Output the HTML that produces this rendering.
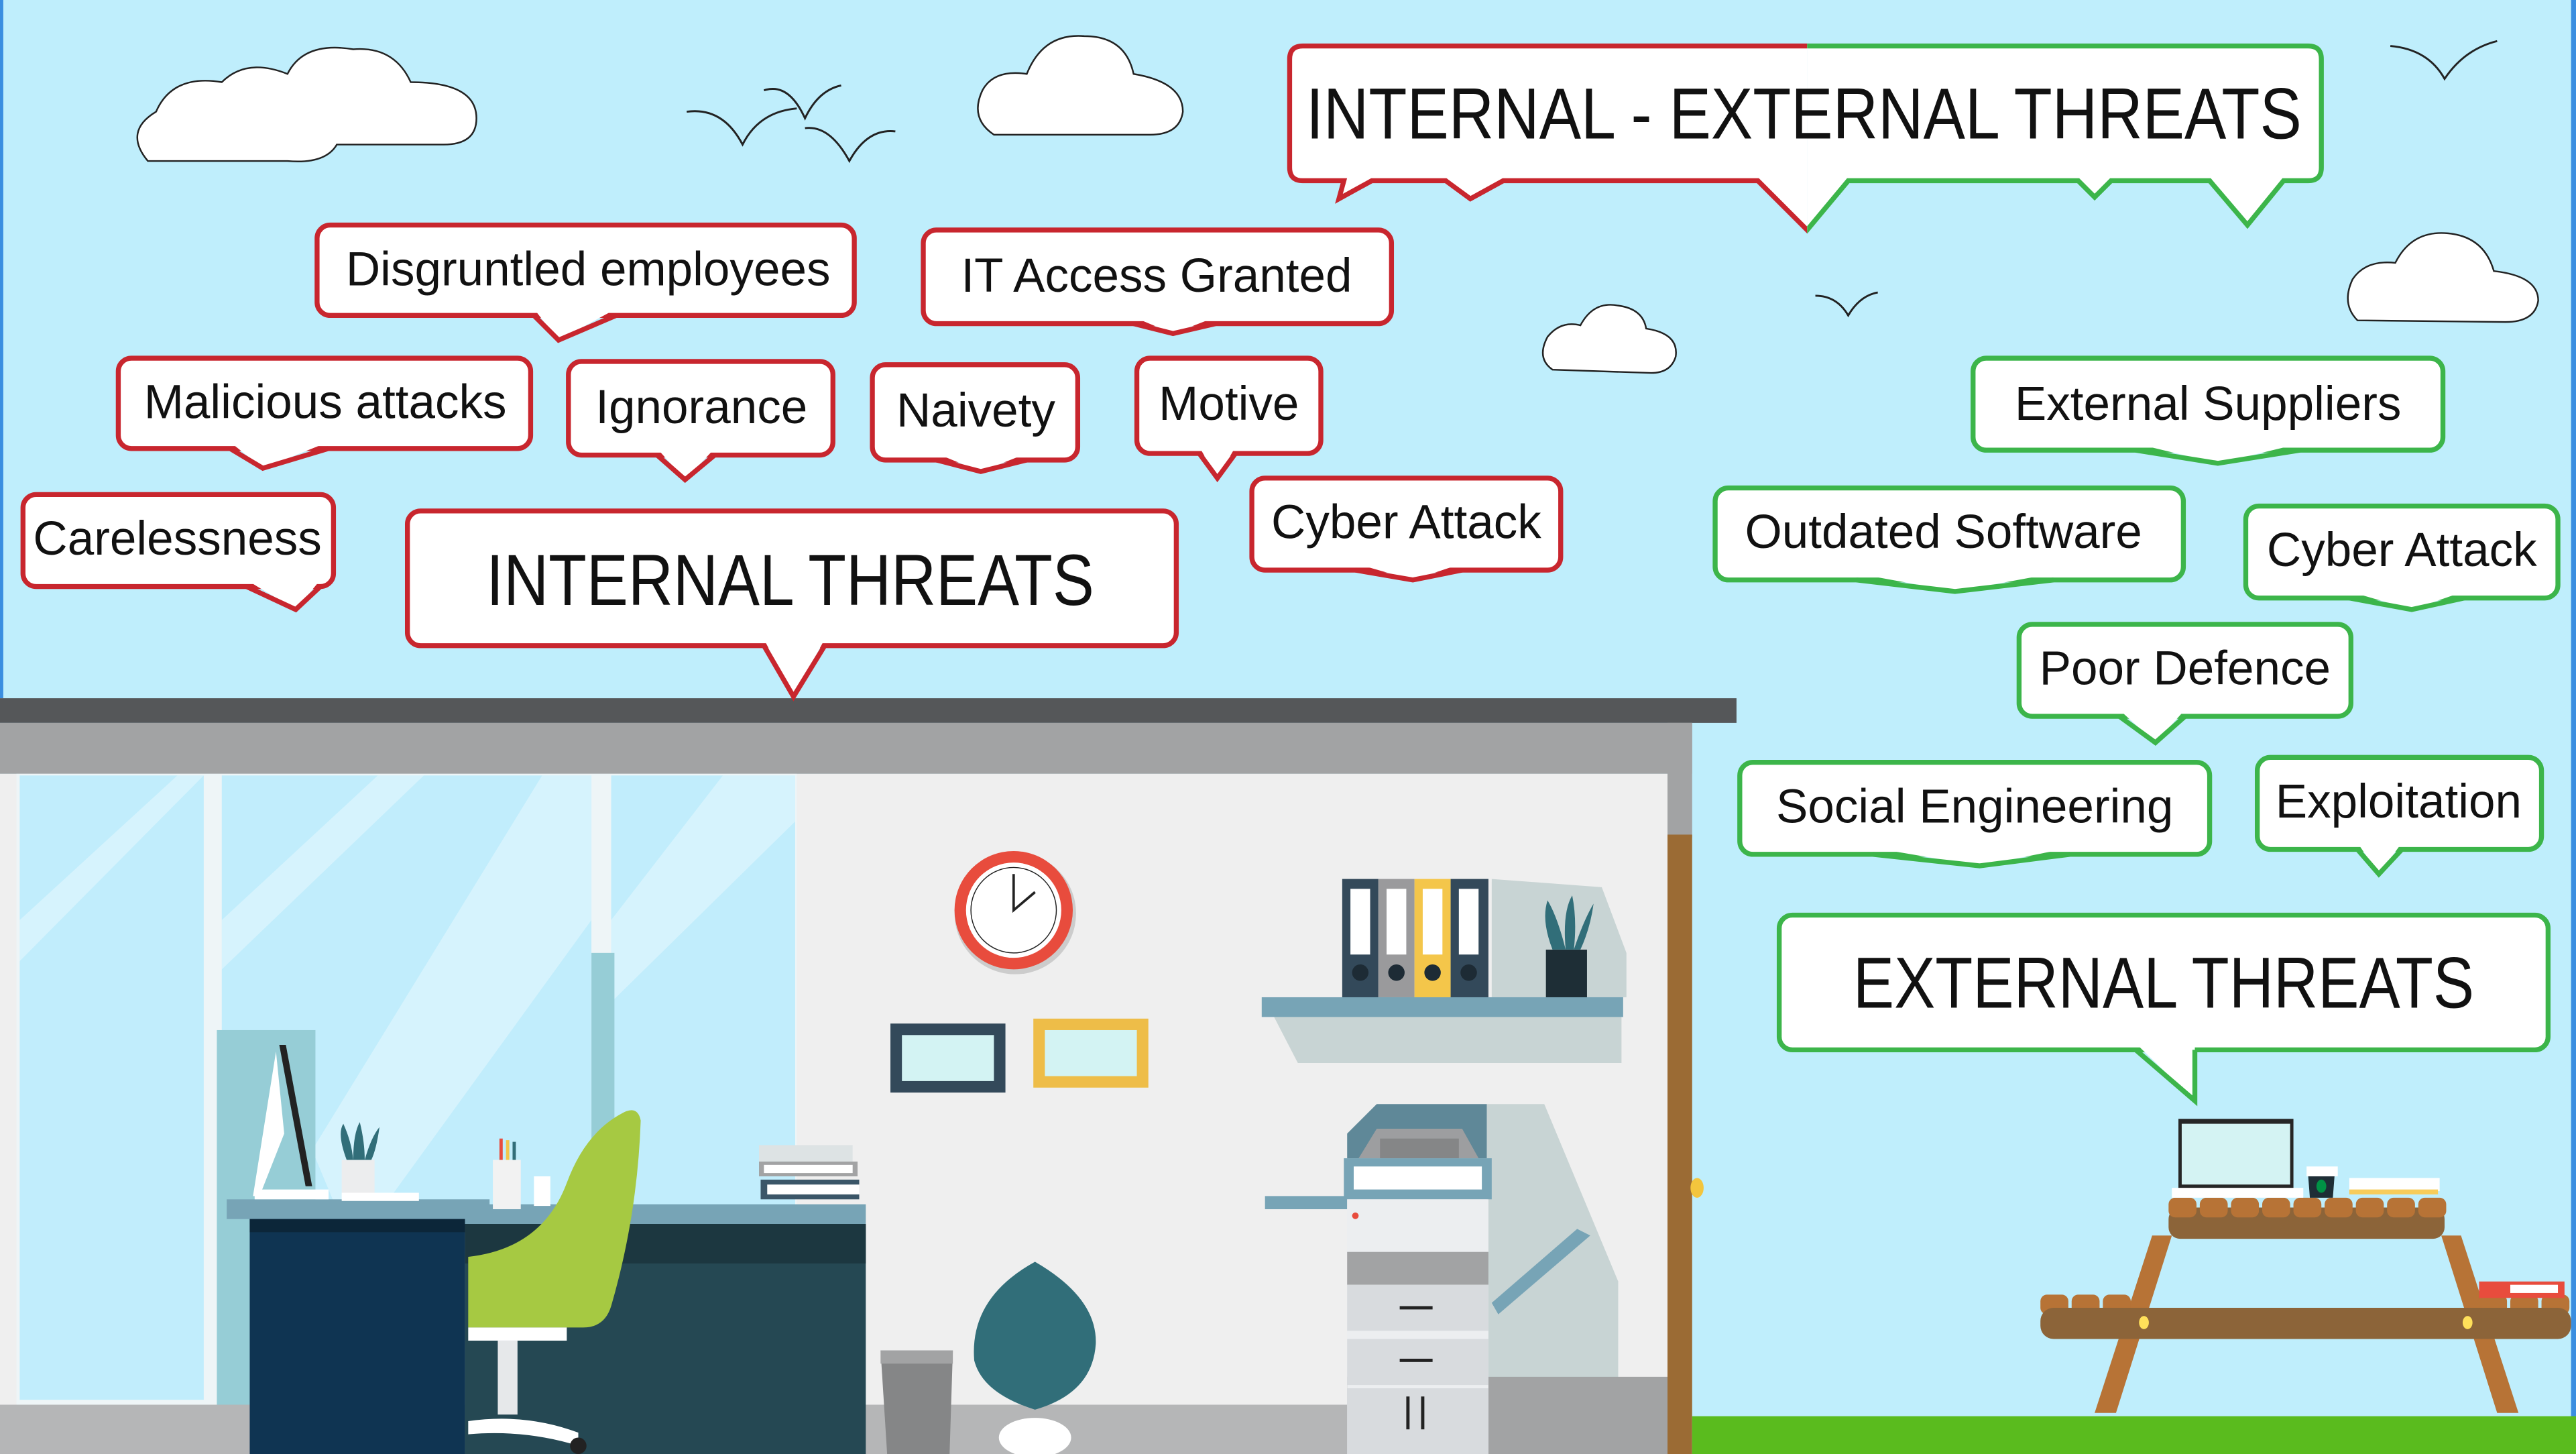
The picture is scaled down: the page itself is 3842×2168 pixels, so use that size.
<!DOCTYPE html>
<html><head><meta charset="utf-8"><style>
html,body{margin:0;padding:0;width:3842px;height:2168px;overflow:hidden;background:#bfeefc}
svg{display:block}
text{font-family:"Liberation Sans",sans-serif;fill:#111;text-anchor:middle;dominant-baseline:central}
</style></head><body>
<svg width="3842" height="2168" viewBox="0 0 1568 885" preserveAspectRatio="none">
<defs>
<clipPath id="cl"><rect x="0" y="0" width="1100" height="200"/></clipPath>
<clipPath id="cr"><rect x="1100" y="0" width="500" height="200"/></clipPath>
</defs>
<rect width="1568" height="885" fill="#bfeefc"/>
<rect x="0" y="0" width="2" height="425" fill="#3a8ee0"/>
<rect x="1565" y="0" width="3" height="885" fill="#3a8ee0"/>
<g fill="#fff" stroke="#222" stroke-width="1">
<path d="M90,98 Q75,80 95,68 Q105,45 135,50 Q150,35 175,45 Q185,25 215,30 Q240,28 250,50 Q290,50 290,72 Q290,88 270,88 L205,88 Q198,100 175,98 Z"/>
<path d="M605,82 Q590,72 598,55 Q605,42 625,45 Q635,20 660,22 Q685,22 690,45 Q720,50 720,68 Q718,82 700,82 Z"/>
<path d="M945,225 Q935,218 942,205 Q950,195 962,198 Q970,183 985,186 Q1000,188 1002,200 Q1022,203 1020,217 Q1017,227 1005,227 Z"/>
<path d="M1435,195 Q1425,185 1432,170 Q1440,158 1458,160 Q1468,140 1490,142 Q1512,144 1518,165 Q1545,168 1545,183 Q1543,196 1525,196 Z"/>
</g>
<g fill="none" stroke="#222" stroke-width="1.2">
<path d="M418,68 Q440,65 452,88 Q462,68 485,66"/>
<path d="M465,55 Q480,50 490,72 Q498,55 512,52"/>
<path d="M490,78 Q505,76 517,98 Q528,78 545,80"/>
<path d="M1455,28 Q1478,30 1488,48 Q1500,30 1520,25"/>
<path d="M1105,180 Q1118,180 1125,192 Q1132,180 1143,178"/>
</g>
<rect x="0" y="425" width="1057" height="15" fill="#555759"/>
<rect x="0" y="440" width="1030" height="31" fill="#a2a3a4"/>
<rect x="0" y="471" width="1015" height="414" fill="#efefef"/>
<rect x="1015" y="440" width="15" height="70" fill="#a2a3a4"/>
<rect x="1015" y="508" width="15" height="377" fill="#9b6b34"/>
<ellipse cx="1033" cy="723" rx="4" ry="6" fill="#f3c53d"/>
<rect x="1030" y="862" width="538" height="23" fill="#5abb1e"/>
<rect x="10" y="471" width="475" height="390" fill="#eef5f7"/>
<rect x="12" y="472" width="112" height="380" fill="#c1edfc"/>
<rect x="135" y="472" width="225" height="380" fill="#c1edfc"/>
<rect x="372" y="472" width="112" height="380" fill="#c1edfc"/>
<g fill="#fff" opacity="0.35">
<polygon points="12,560 108,472 124,472 12,585"/>
<polygon points="135,560 230,472 258,472 135,590"/>
<polygon points="190,700 330,472 360,472 360,560 215,760"/>
<polygon points="372,560 440,472 484,472 484,500 372,610"/>
</g>
<rect x="132" y="627" width="60" height="230" fill="#96cdd6"/>
<rect x="360" y="580" width="14" height="240" fill="#96cdd6"/>
<rect x="0" y="855" width="1015" height="30" fill="#b5b6b7"/>
<polygon points="905,672 940,672 985,780 985,855 905,855" fill="#c8d4d4"/>
<rect x="820" y="838" width="195" height="47" fill="#a2a3a4"/>
<circle cx="618" cy="556" r="37" fill="#ccc"/>
<circle cx="617" cy="554" r="36" fill="#e84c3d"/>
<circle cx="617" cy="554" r="29" fill="#fff"/>
<circle cx="617" cy="554" r="26" fill="none" stroke="#222" stroke-width="0.6"/>
<path d="M617,532 L617,554 L630,543" stroke="#222" stroke-width="1.5" fill="none"/>
<rect x="542" y="623" width="70" height="42" fill="#33495a"/><rect x="549" y="630" width="56" height="28" fill="#d3f3f3"/>
<rect x="629" y="620" width="70" height="42" fill="#eebd48"/><rect x="636" y="627" width="56" height="28" fill="#d3f3f3"/>
<polygon points="775,618 987,618 987,647 790,647" fill="#c8d4d4"/>
<polygon points="908,535 975,540 990,580 990,607 908,607" fill="#c8d4d4"/>
<rect x="768" y="607" width="220" height="12" fill="#77a4b6"/>
<rect x="817" y="535" width="22" height="72" fill="#33495a"/>
<rect x="839" y="535" width="22" height="72" fill="#9a9a9c"/>
<rect x="861" y="535" width="22" height="72" fill="#f4c64a"/>
<rect x="883" y="535" width="23" height="72" fill="#33495a"/>
<g fill="#fff"><rect x="822" y="541" width="12" height="40"/><rect x="844" y="541" width="12" height="40"/><rect x="866" y="541" width="12" height="40"/><rect x="888" y="541" width="12" height="40"/></g>
<g fill="#1d2b35"><circle cx="828" cy="592" r="5"/><circle cx="850" cy="592" r="5"/><circle cx="872" cy="592" r="5"/><circle cx="894" cy="592" r="5"/></g>
<rect x="941" y="578" width="25" height="29" fill="#1e2e36"/>
<path d="M945,578 Q938,560 942,548 Q948,558 953,578 Q951,555 957,545 Q960,560 958,578 Q964,560 970,550 Q968,565 962,578 Z" fill="#316e79"/>
<polygon points="820,690 838,672 905,672 905,705 820,705" fill="#5f8898"/>
<polygon points="827,705 838,687 890,687 900,705" fill="#9d9ea0"/>
<rect x="840" y="693" width="48" height="12" fill="#858687"/>
<rect x="818" y="705" width="90" height="25" fill="#77a4b6"/><rect x="824" y="710" width="78" height="14" fill="#fff"/>
<rect x="770" y="728" width="50" height="8" fill="#77a4b6"/>
<rect x="820" y="730" width="86" height="155" fill="#eceef0"/>
<rect x="820" y="762" width="86" height="20" fill="#a2a3a4"/>
<rect x="820" y="782" width="86" height="28" fill="#d8dbde"/>
<rect x="820" y="815" width="86" height="28" fill="#d8dbde"/>
<rect x="820" y="845" width="86" height="40" fill="#d8dbde"/>
<circle cx="825" cy="740" r="2" fill="#e84c3d"/>
<rect x="852" y="795" width="20" height="2" fill="#222"/><rect x="852" y="827" width="20" height="2" fill="#222"/>
<rect x="856" y="850" width="2" height="20" fill="#222"/><rect x="865" y="850" width="2" height="20" fill="#222"/>
<polygon points="908,793 960,748 968,752 912,800" fill="#77a4b6"/>
<polygon points="536,822 580,822 578,885 540,885" fill="#858687"/>
<rect x="536" y="822" width="44" height="8" fill="#a2a3a4"/>
<path d="M630,768 Q590,790 593,828 Q598,848 630,858 Q665,848 667,818 Q668,790 630,768 Z" fill="#316e79"/>
<ellipse cx="630" cy="875" rx="22" ry="12" fill="#fff"/>
<rect x="152" y="733" width="375" height="12" fill="#77a4b6"/>
<rect x="138" y="730" width="160" height="12" fill="#77a4b6"/>
<rect x="283" y="745" width="244" height="140" fill="#254853"/>
<rect x="283" y="745" width="244" height="24" fill="#1c3740"/>
<rect x="152" y="742" width="131" height="143" fill="#0f3452"/>
<rect x="152" y="742" width="131" height="8" fill="#0c2639"/>
<polygon points="170,636 174,636 190,722 186,722" fill="#222"/>
<polygon points="168,640 173,690 158,728 154,728" fill="#fff"/>
<rect x="155" y="724" width="45" height="6" fill="#fff"/>
<rect x="208" y="706" width="20" height="22" fill="#ecedee"/>
<path d="M211,706 Q205,690 209,684 Q214,695 215,706 Q215,690 219,683 Q222,695 222,706 Q226,692 231,686 Q229,700 226,706 Z" fill="#316e79"/>
<rect x="208" y="726" width="47" height="5" fill="#fff"/>
<rect x="300" y="706" width="17" height="30" fill="#f2f2f2"/>
<rect x="304" y="693" width="2" height="13" fill="#e84c3d"/><rect x="308" y="694" width="2" height="12" fill="#f4c64a"/><rect x="312" y="695" width="2" height="11" fill="#316e79"/>
<rect x="325" y="716" width="10" height="18" fill="#fff"/>
<rect x="462" y="697" width="57" height="10" fill="#dde3e4"/>
<rect x="462" y="707" width="60" height="9" fill="#a2a3a4"/><rect x="465" y="709" width="54" height="5" fill="#fff"/>
<rect x="463" y="718" width="60" height="12" fill="#3b5668"/><rect x="467" y="721" width="56" height="6" fill="#fff"/>
<path d="M378,678 Q388,672 390,682 Q388,740 372,795 Q368,808 355,808 L285,808 L285,765 Q330,760 345,720 Q356,690 378,678 Z" fill="#a6c942"/>
<rect x="285" y="808" width="60" height="8" fill="#fff"/>
<rect x="303" y="816" width="12" height="45" fill="#e6e8ea"/>
<path d="M285,865 Q320,860 352,872 L352,880 Q320,870 285,873 Z" fill="#fff"/>
<circle cx="352" cy="880" r="5" fill="#222"/>
<g fill="#b77336">
<polygon points="1275,860 1288,860 1322,752 1310,752"/>
<polygon points="1520,860 1533,860 1498,752 1486,752"/>
</g>
<rect x="1320" y="735" width="168" height="19" rx="7" fill="#8c6439"/>
<g fill="#b77336">
<rect x="1320" y="729" width="17" height="12" rx="4"/><rect x="1339" y="729" width="17" height="12" rx="4"/><rect x="1358" y="729" width="17" height="12" rx="4"/><rect x="1377" y="729" width="17" height="12" rx="4"/><rect x="1396" y="729" width="17" height="12" rx="4"/><rect x="1415" y="729" width="17" height="12" rx="4"/><rect x="1434" y="729" width="17" height="12" rx="4"/><rect x="1453" y="729" width="17" height="12" rx="4"/><rect x="1472" y="729" width="17" height="12" rx="4"/>
<rect x="1242" y="788" width="17" height="12" rx="4"/><rect x="1261" y="788" width="17" height="12" rx="4"/><rect x="1280" y="788" width="17" height="12" rx="4"/>
<rect x="1509" y="788" width="17" height="12" rx="4"/><rect x="1528" y="788" width="17" height="12" rx="4"/><rect x="1547" y="788" width="17" height="12" rx="4"/>
</g>
<rect x="1242" y="796" width="323" height="19" rx="8" fill="#8c6439"/>
<ellipse cx="1305" cy="805" rx="3" ry="4" fill="#ffe05a"/><ellipse cx="1502" cy="805" rx="3" ry="4" fill="#ffe05a"/>
<rect x="1509" y="780" width="52" height="10" fill="#e84c3d"/><rect x="1528" y="782" width="29" height="5" fill="#fff"/>
<rect x="1326" y="681" width="70" height="43" fill="#262626"/><rect x="1328" y="684" width="66" height="37" fill="#d4f3f3"/>
<rect x="1322" y="723" width="80" height="6" fill="#fff"/>
<polygon points="1405,716 1421,716 1420,729 1406,729" fill="#1e2e36"/><rect x="1404" y="710" width="19" height="6" fill="#fff"/>
<ellipse cx="1413" cy="722" rx="3" ry="4" fill="#009245"/>
<rect x="1430" y="717" width="55" height="8" fill="#fff"/><rect x="1430" y="724" width="54" height="3" fill="#f7cc5a"/>
<g stroke-width="3" fill="#fff" stroke-linejoin="miter">
<g stroke="#c8262e">
<rect x="193" y="137" width="327" height="55" rx="8"/><polygon points="325,188 375,188 340,207" stroke="none"/><polyline fill="none" points="325,192 340,207 375,192"/>
<rect x="562" y="140" width="285" height="57" rx="8"/><polygon points="690,193 740,193 714,203" stroke="none"/><polyline fill="none" points="690,197 714,203 740,197"/>
<rect x="72" y="218" width="251" height="55" rx="8"/><polygon points="140,269 200,269 160,285" stroke="none"/><polyline fill="none" points="140,273 160,285 200,273"/>
<rect x="346" y="220" width="161" height="57" rx="8"/><polygon points="400,273 435,273 417,292" stroke="none"/><polyline fill="none" points="400,277 417,292 435,277"/>
<rect x="531" y="222" width="125" height="58" rx="8"/><polygon points="570,276 625,276 597,287" stroke="none"/><polyline fill="none" points="570,280 597,287 625,280"/>
<rect x="692" y="218" width="112" height="58" rx="8"/><polygon points="730,272 752,272 741,291" stroke="none"/><polyline fill="none" points="730,276 741,291 752,276"/>
<rect x="14" y="301" width="189" height="56" rx="8"/><polygon points="150,353 195,353 180,371" stroke="none"/><polyline fill="none" points="150,357 180,371 195,357"/>
<rect x="248" y="311" width="468" height="82" rx="8"/><polygon points="465,389 502,389 483,424" stroke="none"/><polyline fill="none" points="465,393 483,424 502,393"/>
<rect x="762" y="291" width="188" height="56" rx="8"/><polygon points="825,343 890,343 860,353" stroke="none"/><polyline fill="none" points="825,347 860,353 890,347"/>
</g>
<g stroke="#3cb54a">
<rect x="1201" y="218" width="286" height="56" rx="8"/><polygon points="1300,270 1400,270 1350,282" stroke="none"/><polyline fill="none" points="1300,274 1350,282 1400,274"/>
<rect x="1044" y="297" width="285" height="56" rx="8"/><polygon points="1130,349 1250,349 1190,360" stroke="none"/><polyline fill="none" points="1130,353 1190,360 1250,353"/>
<rect x="1367" y="308" width="190" height="56" rx="8"/><polygon points="1430,360 1500,360 1468,371" stroke="none"/><polyline fill="none" points="1430,364 1468,371 1500,364"/>
<rect x="1229" y="380" width="202" height="56" rx="8"/><polygon points="1290,432 1330,432 1312,452" stroke="none"/><polyline fill="none" points="1290,436 1312,452 1330,436"/>
<rect x="1059" y="464" width="286" height="56" rx="8"/><polygon points="1140,516 1260,516 1205,527" stroke="none"/><polyline fill="none" points="1140,520 1205,527 1260,520"/>
<rect x="1374" y="461" width="173" height="56" rx="8"/><polygon points="1435,513 1462,513 1448,532" stroke="none"/><polyline fill="none" points="1435,517 1448,532 1462,517"/>
<rect x="1083" y="557" width="468" height="82" rx="8"/><polygon points="1300,635 1336,635 1336,670" stroke="none"/><polyline fill="none" points="1300,639 1336,670 1336,639"/>
</g>
<g clip-path="url(#cl)" stroke="#c8262e">
<path d="M793,28 H1405 Q1413,28 1413,36 V102 Q1413,110 1405,110 H1390 L1368,137 L1345,110 H1285 L1275,120 L1265,110 H1125 L1100,140 L1070,110 H915 L895,121 L880,110 H835 L815,121 L818,110 H793 Q785,110 785,102 V36 Q785,28 793,28 Z"/>
</g>
<g clip-path="url(#cr)" stroke="#3cb54a">
<path d="M793,28 H1405 Q1413,28 1413,36 V102 Q1413,110 1405,110 H1390 L1368,137 L1345,110 H1285 L1275,120 L1265,110 H1125 L1100,140 L1070,110 H915 L895,121 L880,110 H835 L815,121 L818,110 H793 Q785,110 785,102 V36 Q785,28 793,28 Z"/>
</g>
</g>
<g font-size="29">
<text x="358" y="164">Disgruntled employees</text>
<text x="704" y="168">IT Access Granted</text>
<text x="198" y="245">Malicious attacks</text>
<text x="427" y="248">Ignorance</text>
<text x="594" y="250">Naivety</text>
<text x="748" y="246">Motive</text>
<text x="108" y="328">Carelessness</text>
<text x="856" y="318">Cyber Attack</text>
<text x="1344" y="246">External Suppliers</text>
<text x="1183" y="324">Outdated Software</text>
<text x="1462" y="335">Cyber Attack</text>
<text x="1330" y="407">Poor Defence</text>
<text x="1202" y="491">Social Engineering</text>
<text x="1460" y="488">Exploitation</text>
</g>
<g font-size="44">
<text x="481" y="353" textLength="370" lengthAdjust="spacingAndGlyphs">INTERNAL THREATS</text>
<text x="1317" y="598" textLength="378" lengthAdjust="spacingAndGlyphs">EXTERNAL THREATS</text>
<text x="1098" y="69" textLength="606" lengthAdjust="spacingAndGlyphs">INTERNAL - EXTERNAL THREATS</text>
</g>
</svg>
</body></html>
